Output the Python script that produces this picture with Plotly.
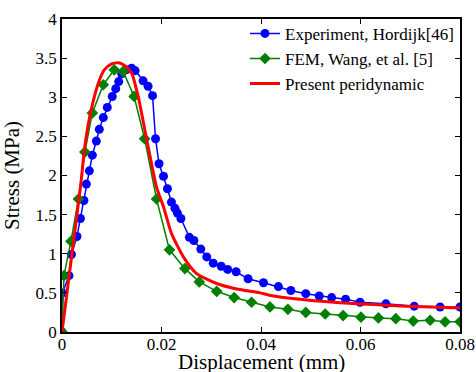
import plotly.graph_objects as go

# Experiment, Hordijk[46]
exp_x = [0, 0.0001, 0.0014, 0.0019, 0.0030, 0.0037, 0.0044, 0.0049, 0.0055, 0.0061,
         0.0069, 0.0075, 0.0083, 0.0091, 0.0101, 0.0108, 0.0114, 0.0120, 0.0129, 0.0140,
         0.0147, 0.0163, 0.0173, 0.0182, 0.0188, 0.0195, 0.0204, 0.0212, 0.0220, 0.0227,
         0.0232, 0.0239, 0.0256, 0.0265, 0.0279, 0.0291, 0.0304, 0.0320, 0.0333, 0.0350,
         0.0374, 0.0405, 0.0435, 0.0460, 0.0490, 0.0517, 0.0542, 0.0570, 0.0599, 0.0651,
         0.0708, 0.0760, 0.0800]
exp_y = [0, 0.50, 0.72, 0.99, 1.22, 1.45, 1.68, 1.89, 2.06, 2.26,
         2.44, 2.59, 2.74, 2.87, 3.01, 3.11, 3.20, 3.30, 3.35, 3.37,
         3.34, 3.21, 3.14, 3.02, 2.47, 2.15, 1.99, 1.83, 1.66, 1.58,
         1.52, 1.45, 1.21, 1.17, 1.06, 0.96, 0.88, 0.84, 0.80, 0.77,
         0.68, 0.63, 0.58, 0.53, 0.49, 0.46, 0.44, 0.42, 0.38, 0.36,
         0.33, 0.32, 0.32]

# FEM, Wang, et al. [5]
fem_x = [0, 0.0004, 0.0018, 0.0033, 0.0046, 0.0061, 0.0083, 0.0105, 0.0123, 0.0145,
         0.0166, 0.0190, 0.0216, 0.0247, 0.0276, 0.0311, 0.0346, 0.0381, 0.0418, 0.0454,
         0.0490, 0.0529, 0.0565, 0.0601, 0.0636, 0.0671, 0.0706, 0.0740, 0.0770, 0.0800]
fem_y = [0, 0.72, 1.16, 1.70, 2.30, 2.80, 3.16, 3.35, 3.33, 3.01,
         2.47, 1.70, 1.05, 0.81, 0.64, 0.52, 0.44, 0.38, 0.32, 0.29,
         0.25, 0.23, 0.21, 0.19, 0.18, 0.17, 0.14, 0.15, 0.13, 0.13]

# Present peridynamic
pd_x = [0, 0.0020, 0.0038, 0.0045, 0.0056, 0.0073, 0.0085, 0.0098, 0.0113, 0.0127,
        0.0140, 0.0153, 0.0170, 0.0190, 0.0204, 0.0220, 0.0244, 0.0270, 0.0311, 0.0351,
        0.0398, 0.0425, 0.0492, 0.0559, 0.0626, 0.0693, 0.0760, 0.0800]
pd_y = [0, 1.00, 1.90, 2.33, 2.76, 3.18, 3.35, 3.42, 3.44, 3.40,
        3.31, 3.01, 2.47, 1.85, 1.60, 1.26, 0.96, 0.75, 0.62, 0.55,
        0.50, 0.46, 0.41, 0.375, 0.35, 0.33, 0.316, 0.307]

x_ticks = [0, 0.02, 0.04, 0.06, 0.08]
x_tick_labels = ["0", "0.02", "0.04", "0.06", "0.08"]
y_ticks = [0, 0.5, 1, 1.5, 2, 2.5, 3, 3.5, 4]
y_tick_labels = ["0", "0.5", "1", "1.5", "2", "2.5", "3", "3.5", "4"]

x_title = "Displacement (mm)"
y_title = "Stress (MPa)"

FONT = "Liberation Serif"

fig = go.Figure()
fig.add_trace(go.Scatter(x=exp_x, y=exp_y, mode="lines+markers",
                         name="Experiment, Hordijk[46]",
                         line=dict(color="#0000FF", width=1.5),
                         marker=dict(symbol="circle", size=9, color="#0000FF")))
fig.add_trace(go.Scatter(x=fem_x, y=fem_y, mode="lines+markers",
                         name="FEM, Wang, et al. [5]",
                         line=dict(color="#008000", width=1.5),
                         marker=dict(symbol="diamond", size=9, color="#008000")))
fig.add_trace(go.Scatter(x=pd_x, y=pd_y, mode="lines",
                         name="Present peridynamic",
                         line=dict(color="#FF0000", width=3, shape="spline", smoothing=0.6)))

axis_common = dict(showline=True, linecolor="black", linewidth=1.5, mirror="ticks",
                   ticks="inside", ticklen=5, tickwidth=1, tickcolor="black",
                   showgrid=False, zeroline=False, automargin=False,
                   tickfont=dict(family=FONT, size=17, color="black"))

fig.update_xaxes(range=[0, 0.08], tickvals=x_ticks, ticktext=x_tick_labels,
                 ticklabelstandoff=-4, **axis_common)
fig.update_yaxes(range=[0, 4], tickvals=y_ticks, ticktext=y_tick_labels,
                 title=dict(text=y_title, font=dict(family=FONT, size=21, color="black")),
                 **axis_common)

fig.add_annotation(text=x_title, xref="paper", yref="paper", x=0.5, y=-0.05,
                   xanchor="center", yanchor="top", showarrow=False,
                   font=dict(family=FONT, size=21, color="black"))

fig.update_layout(
    width=476, height=372,
    margin=dict(l=62, r=16, t=19, b=40, pad=0),
    paper_bgcolor="white", plot_bgcolor="white",
    showlegend=True,
    legend=dict(x=1, y=1.01, xanchor="right", yanchor="top",
                bgcolor="rgba(255,255,255,0)", borderwidth=0,
                font=dict(family=FONT, size=17, color="black"),
                tracegroupgap=0, itemwidth=30),
    font=dict(family=FONT, color="black"),
)

fig.write_html("out.html")
